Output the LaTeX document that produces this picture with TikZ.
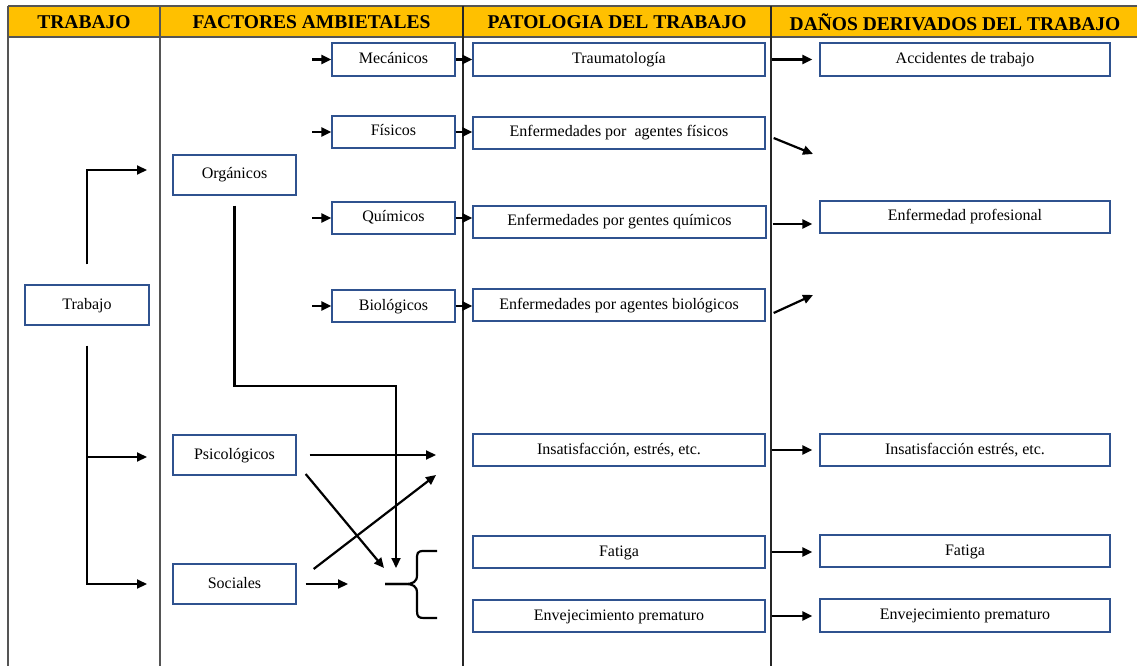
\documentclass[tikz,border=0pt]{standalone}
\usepackage{fontspec}
\setmainfont{Liberation Serif}
\usetikzlibrary{arrows.meta,calc}
\definecolor{hdr}{RGB}{255,192,0}
\definecolor{bx}{RGB}{47,82,143}
\definecolor{gridc}{RGB}{85,85,85}
\newcommand{\mybox}[6]{\node[box, minimum width={(#4-#2)*1bp}, minimum height={(#5-#3)*1bp}] (#1) at ({(#2+#4)/2},{(#3+#5)/2}) {#6};}
\begin{document}
\begin{tikzpicture}[x=1bp,y=-1bp,
  box/.style={draw=bx, line width=1.3bp, rectangle, inner sep=0pt, font=\fontsize{16bp}{18bp}\selectfont, text height=12bp, text depth=4bp},
  arr/.style={line width=2.2bp, -{Triangle[length=10bp,width=9bp]}},
  hdrtext/.style={font=\fontsize{19.5bp}{22bp}\selectfont\bfseries},
  colline/.style={line width=1.8bp}]
\useasboundingbox (0,0) rectangle (1137,666);
% header
\fill[hdr] (8,6) rectangle (1137,37);
\draw[gridc, line width=2.2bp] (8,6) -- (1137,6);
\draw[gridc, line width=2.2bp] (8,37) -- (1137,37);
\draw[gridc, colline] (8,6) -- (8,666);
\draw[gridc, colline] (160,6) -- (160,666);
\draw[black!85, colline] (463,6) -- (463,666);
\draw[black!85, colline] (771,6) -- (771,666);
\node[hdrtext] (h1) at (84,22) {TRABAJO};
\node[hdrtext] (h2) at (311.5,22) {FACTORES AMBIETALES};
\node[hdrtext] (h3) at (617,22) {PATOLOGIA DEL TRABAJO};
\node[hdrtext] (h4) at (955,22) {DAÑOS DERIVADOS DEL TRABAJO};
% boxes
\mybox{trab}{25}{285}{149}{325}{Trabajo}
\mybox{org}{173}{155}{296}{195}{Orgánicos}
\mybox{psi}{173}{435}{296}{475}{Psicológicos}
\mybox{soc}{173}{564}{296}{604}{Sociales}
\mybox{mec}{332}{43}{455}{76}{Mecánicos}
\mybox{fis}{332}{116}{455}{148}{Físicos}
\mybox{qui}{332}{202}{455}{234}{Químicos}
\mybox{bio}{332}{290}{455}{322}{Biológicos}
\mybox{trau}{473}{43}{765}{76}{Traumatología}
\mybox{efi}{473}{117}{765}{149}{Enfermedades por\ \ agentes físicos}
\mybox{eqi}{473}{206}{766}{238}{Enfermedades por gentes químicos}
\mybox{ebi}{473}{289}{765}{321}{Enfermedades por agentes biológicos}
\mybox{pins}{473}{434}{765}{466}{Insatisfacción, estrés, etc.}
\mybox{pfat}{473}{536}{765}{568}{Fatiga}
\mybox{penv}{473}{600}{765}{632}{Envejecimiento prematuro}
\mybox{acc}{820}{43}{1110}{76}{Accidentes de trabajo}
\mybox{prof}{820}{201}{1110}{233}{Enfermedad profesional}
\mybox{dins}{820}{434}{1110}{466}{Insatisfacción estrés, etc.}
\mybox{dfat}{820}{535}{1110}{567}{Fatiga}
\mybox{denv}{820}{599}{1110}{632}{Envejecimiento prematuro}
% coordinates
\coordinate (torg) at (147,170);
\coordinate (tpsi) at (147,457);
\coordinate (tsoc) at (147,584);
\coordinate (ok) at (396,386);
\coordinate (obr) at (396,568);
\coordinate (pi1) at (436,455);
\coordinate (pb) at (384,568);
\coordinate (si) at (436,475);
\coordinate (sb) at (348,584);
\coordinate (dfis) at (813,154);
\coordinate (dbio) at (813,295);
% trabajo arrows
\draw[arr] ([yshift=20bp]trab.north) |- (torg);
\draw[arr] ([yshift=-20bp]trab.south) |- (tsoc);
\draw[arr] (trab.south |- tpsi) -- (tpsi);
% organicos arrows
\foreach \n in {mec,fis,qui,bio}{
  \draw[arr] ([xshift=-19bp]\n.west) -- (\n.west);
}
\draw[arr] (mec.east) -- (mec.east -| trau.west);
\draw[arr] (fis.east) -- (fis.east -| efi.west);
\draw[arr] (qui.east) -- (qui.east -| eqi.west);
\draw[arr] (bio.east) -- (bio.east -| ebi.west);
\draw[arr] ([yshift=-10bp]org.south) |- (ok) -- (obr);
% psico / sociales
\draw[arr] ([xshift=13bp]psi.east) -- (pi1);
\draw[arr] ([xshift=9bp,yshift=-19bp]psi.east) -- (pb);
\draw[arr] ([xshift=17bp,yshift=15bp]soc.east) -- (si);
\draw[arr] ([xshift=9bp]soc.east) -- (sb);
% brace
\draw[line width=2.2bp] (437,551) -- (424,551) .. controls (417,551) and (417,553) .. (417,560) -- (417,575) .. controls (417,582) and (413,584) .. (405,584) -- (385,584);
\draw[line width=2.2bp] (385,584) -- (405,584) .. controls (413,584) and (417,586) .. (417,593) -- (417,611) .. controls (417,617) and (419,618) .. (424,618) -- (437,618);
% pathology -> damage
\draw[arr] ([xshift=6bp]trau.east) -- ([xshift=-7bp]trau.east -| acc.west);
\draw[arr] ([xshift=8bp,yshift=-5bp]efi.east) -- (dfis);
\draw[arr] ([xshift=6bp,yshift=-2bp]eqi.east) -- ([xshift=-7bp,yshift=-2bp]eqi.east -| prof.west);
\draw[arr] ([xshift=8bp,yshift=-8bp]ebi.east) -- (dbio);
\draw[arr] ([xshift=6bp]pins.east) -- ([xshift=-7bp]pins.east -| dins.west);
\draw[arr] ([xshift=6bp]pfat.east) -- ([xshift=-7bp]pfat.east -| dfat.west);
\draw[arr] ([xshift=6bp]penv.east) -- ([xshift=-7bp]penv.east -| denv.west);
\end{tikzpicture}
\end{document}
